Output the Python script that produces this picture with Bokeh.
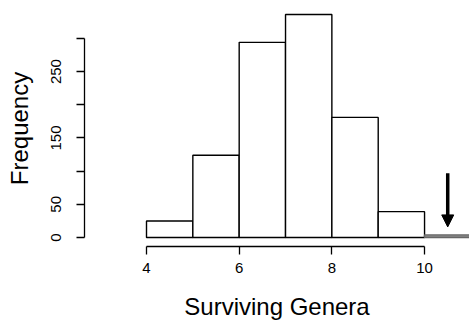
from bokeh.plotting import figure
from bokeh.models import Range1d, FixedTicker, Arrow, NormalHead
from bokeh.embed import file_html
from bokeh.resources import INLINE

# Histogram data
bin_left = [4, 5, 6, 7, 8, 9, 10]
bin_right = [5, 6, 7, 8, 9, 10, 11]
counts = [25, 124, 294, 336, 181, 39, 4]

x_ticks = [4, 6, 8, 10]
y_ticks = [0, 50, 100, 150, 200, 250, 300]
y_tick_labels = {0: "0", 50: "50", 100: "", 150: "150", 200: "", 250: "250", 300: ""}

# observed value marked by arrow
arrow_x = 10.5
arrow_top = 97
arrow_tip = 16

FONT = "Liberation Sans"

p = figure(width=469, height=322, output_backend="svg", toolbar_location=None,
           x_range=Range1d(2.662, 10.97), y_range=Range1d(-13.5, 342),
           min_border_left=84, min_border_right=0, min_border_top=10, min_border_bottom=75)
p.outline_line_color = None
p.xgrid.visible = False
p.ygrid.visible = False
p.background_fill_color = "white"
p.border_fill_color = "white"

fills = ["white" if l < 10 else "#8a8a8a" for l in bin_left]
lines = ["black" if l < 10 else "#666666" for l in bin_left]
p.quad(left=bin_left, right=bin_right, top=counts, bottom=0,
       fill_color=fills, line_color=lines, line_width=1.4)

p.add_layout(Arrow(end=NormalHead(size=12, fill_color="black", line_color="black"),
                   x_start=arrow_x, y_start=arrow_top, x_end=arrow_x, y_end=arrow_tip,
                   line_width=3.5, line_color="black"))

for ax in (p.xaxis[0], p.yaxis[0]):
    ax.axis_line_color = "black"
    ax.axis_line_width = 1.3
    ax.major_tick_line_width = 1.3
    ax.major_tick_out = 8
    ax.major_tick_in = 0
    ax.minor_tick_out = 0
    ax.minor_tick_in = 0
    ax.major_label_text_font = FONT
    ax.major_label_text_font_size = "15px"
    ax.major_label_text_color = "black"
    ax.axis_label_text_font = FONT
    ax.axis_label_text_font_size = "24px"
    ax.axis_label_text_font_style = "normal"
    ax.axis_label_text_color = "black"

p.xaxis.ticker = FixedTicker(ticks=x_ticks)
p.xaxis.bounds = (min(x_ticks), max(x_ticks))
p.xaxis.major_label_standoff = 8
p.xaxis.axis_label = "Surviving Genera"
p.xaxis.axis_label_standoff = 17

p.yaxis.ticker = FixedTicker(ticks=y_ticks)
p.yaxis.bounds = (min(y_ticks), max(y_ticks))
p.yaxis.major_label_overrides = y_tick_labels
p.yaxis.major_label_orientation = "vertical"
p.yaxis.major_label_standoff = 15
p.yaxis.axis_label = "Frequency"
p.yaxis.axis_label_standoff = 16

open("out.html", "w").write(file_html(p, INLINE))
